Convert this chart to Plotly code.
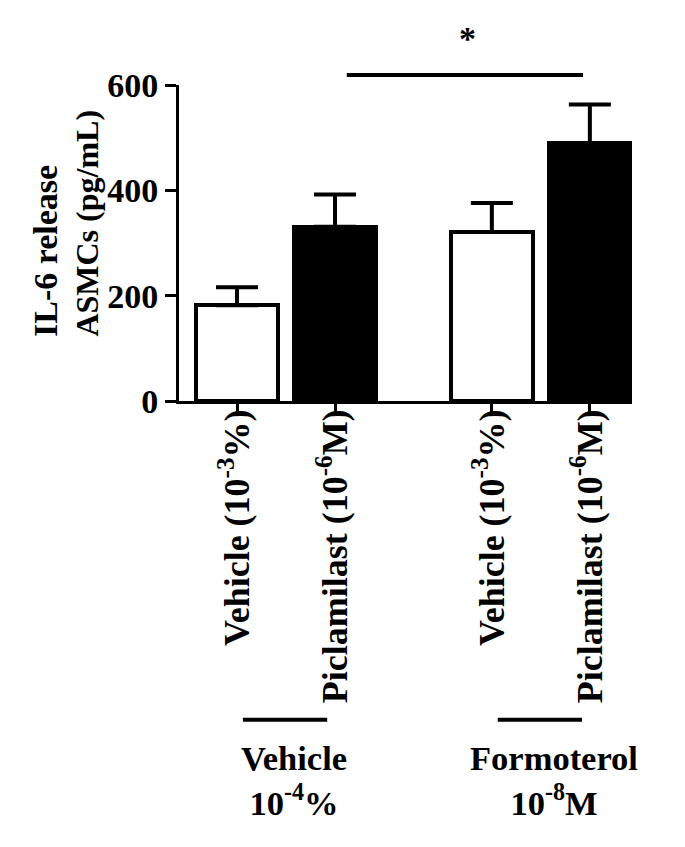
import plotly.graph_objects as go

# Data
categories = ["Vehicle (10<sup>-3</sup>%)", "Piclamilast (10<sup>-6</sup>M)",
              "Vehicle (10<sup>-3</sup>%)", "Piclamilast (10<sup>-6</sup>M)"]
positions = [1.0, 2.0, 3.6, 4.6]
means = [182, 331, 321, 490]
sem = [34, 61, 55, 73]
bar_colors = ["white", "black", "white", "black"]
y_ticks = [0, 200, 400, 600]
group_labels = ["Vehicle<br>10<sup>-4</sup>%", "Formoterol<br>10<sup>-8</sup>M"]

FONT = "Liberation Serif, Times New Roman, serif"

fig = go.Figure()
fig.add_trace(go.Bar(
    x=positions, y=means, width=0.83,
    marker=dict(color=bar_colors, line=dict(color="black", width=4)),
    error_y=dict(type="data", array=sem, arrayminus=[0] * len(sem), symmetric=False,
                 color="black", thickness=4, width=21),
    showlegend=False,
))

# page body has an 8px margin, so the figure is sized 8px smaller
fig.update_layout(
    width=677, height=839,
    margin=dict(l=171, r=53, t=77, b=446),
    plot_bgcolor="white", paper_bgcolor="white",
    font=dict(family=FONT, size=34, color="black"),
    bargap=0,
)
fig.update_xaxes(
    range=[0.408, 5.03], tickvals=positions, ticktext=categories,
    tickangle=-90, ticks="outside", ticklen=11, tickwidth=3, tickcolor="black",
    showline=True, linewidth=3, linecolor="black", showgrid=False, zeroline=False,
    tickfont=dict(family=FONT, size=36, color="black", weight="bold"),
    ticklabelstandoff=-20,
)
fig.update_yaxes(
    range=[0, 600], tickvals=y_ticks, ticks="outside", ticklen=11, tickwidth=3,
    tickcolor="black", showline=True, linewidth=3, linecolor="black",
    showgrid=False, zeroline=False,
    tickfont=dict(family=FONT, size=34, color="black", weight="bold"),
)

# y-axis title (two left-aligned lines)
fig.add_annotation(text="IL-6 release", textangle=-90, xref="paper", yref="paper",
                   x=-0.296, y=0.196, xanchor="center", yanchor="bottom", showarrow=False,
                   font=dict(family=FONT, size=34, weight="bold"))
fig.add_annotation(text="ASMCs (pg/mL)", textangle=-90, xref="paper", yref="paper",
                   x=-0.203, y=0.196, xanchor="center", yanchor="bottom", showarrow=False,
                   font=dict(family=FONT, size=32, weight="bold"))

# significance bar
fig.add_shape(type="line", xref="x", yref="paper", x0=2.12, x1=4.53, y0=1.032, y1=1.032,
              line=dict(color="black", width=4))
fig.add_annotation(text="*", xref="x", yref="paper", x=3.35, y=1.212, showarrow=False,
                   font=dict(family=FONT, size=34, weight="bold"))

# group lines and labels
group_mid = [(positions[0] + positions[1]) / 2, (positions[2] + positions[3]) / 2]
label_x = [1.58, 4.23]
for gm, lx, lab in zip(group_mid, label_x, group_labels):
    fig.add_shape(type="line", xref="x", yref="paper", x0=gm - 0.44, x1=gm + 0.42,
                  y0=-1.009, y1=-1.009, line=dict(color="black", width=4))
    fig.add_annotation(text=lab, xref="x", yref="paper", x=lx, y=-1.062,
                       xanchor="center", yanchor="top", showarrow=False,
                       font=dict(family=FONT, size=34.5, weight="bold"))

fig.write_html("out.html")
